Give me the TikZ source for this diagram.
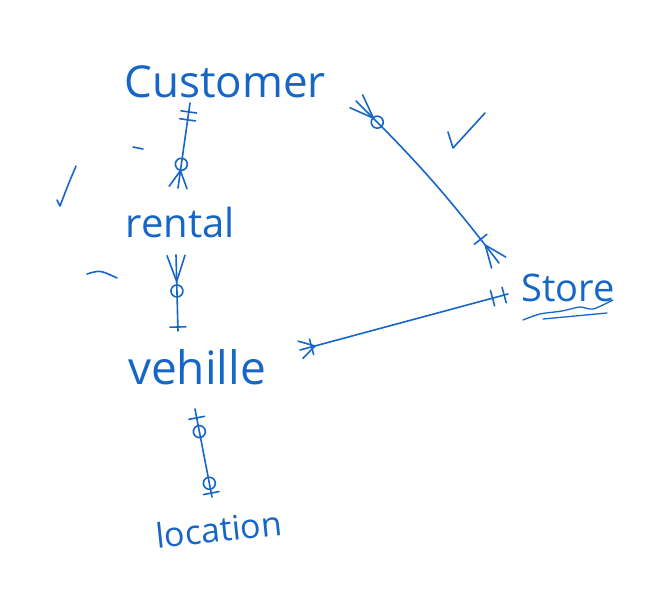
\documentclass[tikz,border=0pt]{standalone}
\usepackage{fontspec}
\setmainfont{Open Sans}
\newfontfamily\handfont{Open Sans}
\usetikzlibrary{decorations.markings}
\definecolor{inkblue}{RGB}{22,102,200}

\begin{document}
\begin{tikzpicture}[x=1pt, y=-1pt,
  ink/.style={draw=inkblue, line width=1.6pt, line cap=round, line join=round},
  entity/.style={text=inkblue, inner sep=0pt, anchor=base},
  bar start/.style={postaction={decorate,decoration={markings,
    mark=at position #1 with {\draw[ink] (0,-8pt) -- (0,8pt);}}}},
  bar end/.style={postaction={decorate,decoration={markings,
    mark=at position -#1 with {\draw[ink] (0,-8pt) -- (0,8pt);}}}},
  ring start/.style={postaction={decorate,decoration={markings,
    mark=at position #1 with {\draw[ink] (0,0) circle (6pt);}}}},
  ring end/.style={postaction={decorate,decoration={markings,
    mark=at position -#1 with {\draw[ink] (0,0) circle (6pt);}}}},
  crow start/.style={postaction={decorate,decoration={markings,
    mark=at position 0.5pt with {\draw[ink] (0,-9pt) -- (#1,0) -- (0,9pt);}}}},
  crow end/.style={postaction={decorate,decoration={markings,
    mark=at position -0.5pt with {\draw[ink] (0,-9pt) -- (-#1,0) -- (0,9pt);}}}}
]
\useasboundingbox (0,0) rectangle (656,604);

\node (cust) [entity, font=\handfont\fontsize{44}{48}\selectfont] at (225,98) {Customer};
\node (rent) [entity, font=\handfont\fontsize{40}{44}\selectfont] at (180,238) {rental};
\node (veh) [entity, font=\handfont\fontsize{46}{50}\selectfont] at (197,384) {vehille};
\node (store) [entity, font=\handfont\fontsize{38}{42}\selectfont] at (568,301) {Store};
\node (loc) [entity, rotate=6, font=\handfont\fontsize{34}{38}\selectfont] at (220,542) {location};

%relations:
\draw [ink, bar start=9pt, bar start=17pt, crow end=17pt, ring end=24pt]
  ([shift={(-35,5)}]cust.base) -- ([shift={(-2,-50)}]rent.base);
\draw [ink, crow start=26pt, ring start=36pt, bar end=4pt]
  ([shift={(-4,17)}]rent.base) -- ([shift={(-19,-53)}]veh.base);
\draw [ink, crow start=15pt, bar start=12pt, bar end=4pt, bar end=16pt]
  ([shift={(103,-34)}]veh.base) -- ([shift={(-60,-7)}]store.base);
\draw [ink, crow start=24pt, ring start=30pt, bar end=30pt, crow end=22pt]
  ([shift={(131,3)}]cust.base) to [bend left=4] ([shift={(-69,-38)}]store.base);
\draw [ink, bar start=9pt, ring start=23pt, ring end=14pt, bar end=4pt]
  ([shift={(-2,25)}]veh.base) -- ([shift={(-8,-45)}]loc.base);

%marks:
\draw [ink] (76,166) .. controls (68,185) .. (60,206) -- (57,200);
\draw [ink] (133,147) -- (143,149);
\draw [ink] (87,274) .. controls (100,270) .. (117,278);
\draw [ink] (448,132) -- (453,148) -- (485,113);
\draw [ink, line width=1.3pt] plot [smooth] coordinates {(523,320) (540,314) (562,311) (580,307) (593,309) (613,300)};
\draw [ink, line width=1.3pt] (543,319) -- (575,316) -- (607,313);

\end{tikzpicture}
\end{document}
